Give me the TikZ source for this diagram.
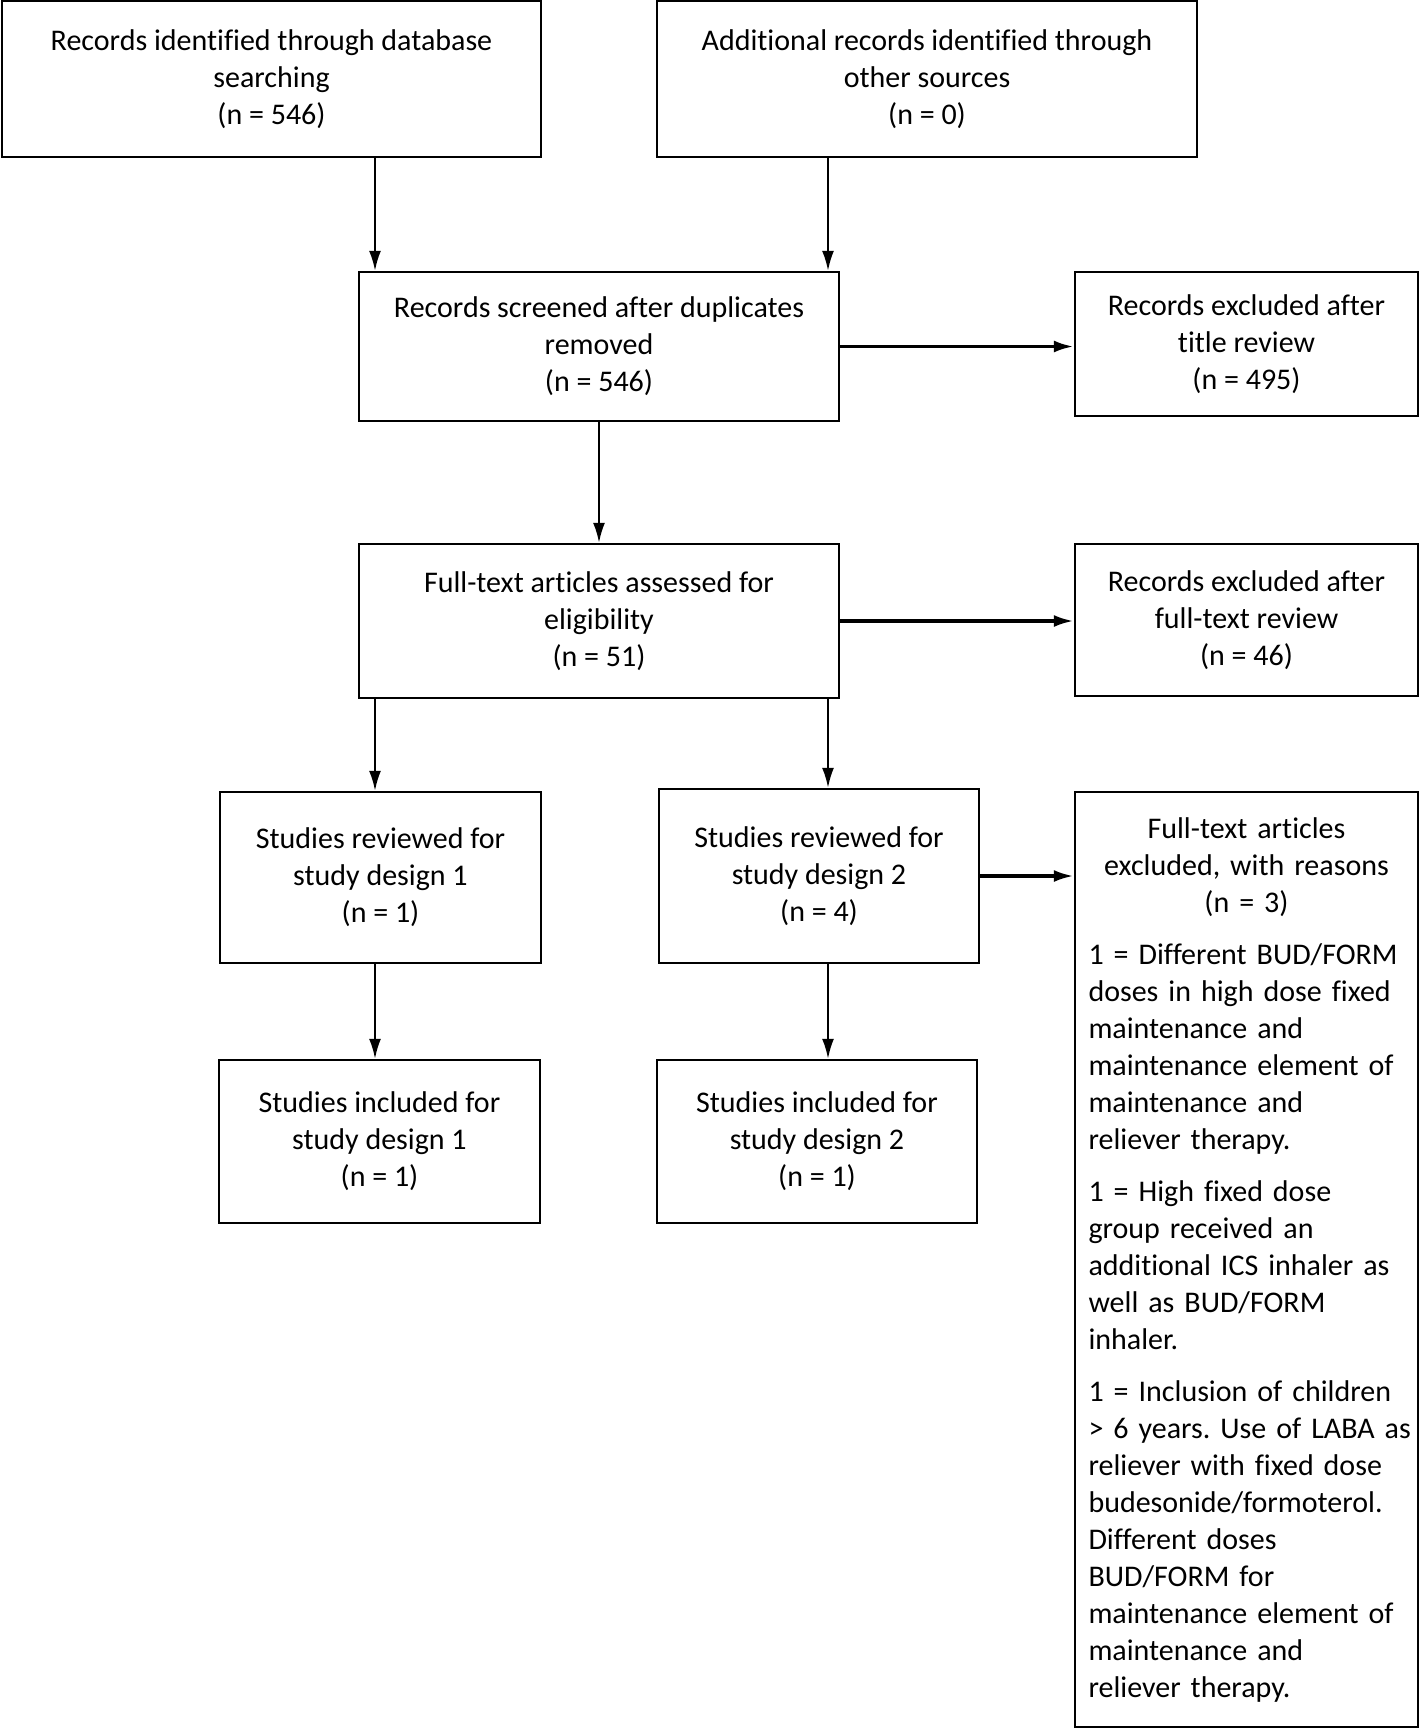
\documentclass[tikz,border=0pt]{standalone}
\usepackage{fontspec}
\setmainfont{Carlito}[Ligatures=NoCommon]
\usetikzlibrary{arrows.meta}

\begin{document}
\begin{tikzpicture}[x=0.5pt,y=-0.5pt,
    box/.style={draw,line width=1.2pt,align=center,inner sep=0pt,font=\fontsize{15}{18.5}\selectfont},
    arr/.style={line width=1.1pt,-{Latex[length=10pt,width=6pt]}},
    harr/.style={arr,line width=1.7pt}]
  \useasboundingbox (0,0) rectangle (1420,1729);
  % Identification
  \node[box,minimum width=269.5pt,minimum height=78pt] (found) at (271.5,79)
    {Records identified through database\\searching\\(n = 546)};
  \node[box,minimum width=270pt,minimum height=78pt] (other) at (927,79)
    {Additional records identified through\\other sources\\(n = 0)};
  % Screening
  \node[box,minimum width=240pt,minimum height=74.5pt] (screened) at (599,346.5)
    {Records screened after duplicates\\removed\\(n = 546)};
  \node[box,minimum width=171.5pt,minimum height=72pt] (extitle) at (1246.5,344)
    {Records excluded after\\title review\\(n = 495)};
  % Eligibility
  \node[box,minimum width=240pt,minimum height=77pt] (fulltext) at (599,621)
    {Full-text articles assessed for\\eligibility\\(n = 51)};
  \node[box,minimum width=171.5pt,minimum height=76pt] (exfull) at (1246.5,620)
    {Records excluded after\\full-text review\\(n = 46)};
  % Studies
  \node[box,minimum width=160.5pt,minimum height=85.5pt] (rev1) at (380.5,877.5)
    {Studies reviewed for\\study design 1\\(n = 1)};
  \node[box,minimum width=160pt,minimum height=87pt] (rev2) at (819,876)
    {Studies reviewed for\\study design 2\\(n = 4)};
  \node[box,minimum width=160.5pt,minimum height=81.5pt] (inc1) at (379.5,1141.5)
    {Studies included for\\study design 1\\(n = 1)};
  \node[box,minimum width=160pt,minimum height=81.5pt] (inc2) at (817,1141.5)
    {Studies included for\\study design 2\\(n = 1)};
  % Reasons
  \node[box,align=left,text width=158pt,inner xsep=6.75pt,minimum height=467.5pt] (reasons) at (1246.5,1259.5)
    {\frenchspacing\hfuzz=20pt{\centering Full-text articles\\excluded, with reasons\\(n = 3)\par}\vspace{7.5pt}\raggedright
     1 = Different BUD/FORM\\doses in high dose fixed\\maintenance and\\maintenance element of\\maintenance and\\reliever therapy.\par\vspace{7.5pt}
     1 = High fixed dose\\group received an\\additional ICS inhaler as\\well as BUD/FORM\\inhaler.\par\vspace{7.5pt}
     1 = Inclusion of children\\\mbox{> 6 years. Use of LABA as}\\reliever with fixed dose\\budesonide/formoterol.\\Different doses\\BUD/FORM for\\maintenance element of\\maintenance and\\reliever therapy.};
  % Arrows
  \coordinate (lx) at (375,0);
  \coordinate (rx) at (828,0);
  \draw[arr] (found.south -| lx) -- (screened.north -| lx);
  \draw[arr] (other.south -| rx) -- (screened.north -| rx);
  \draw[arr] (screened) -- (fulltext);
  \draw[arr] (fulltext.south -| lx) -- (rev1.north -| lx);
  \draw[arr] (fulltext.south -| rx) -- (rev2.north -| rx);
  \draw[arr] (rev1.south -| lx) -- (inc1.north -| lx);
  \draw[arr] (rev2.south -| rx) -- (inc2.north -| rx);
  \draw[harr] (screened.east) -- (screened.east -| extitle.west);
  \draw[harr] (fulltext.east) -- (fulltext.east -| exfull.west);
  \draw[harr] (rev2.east) -- (rev2.east -| reasons.west);
\end{tikzpicture}
\end{document}
